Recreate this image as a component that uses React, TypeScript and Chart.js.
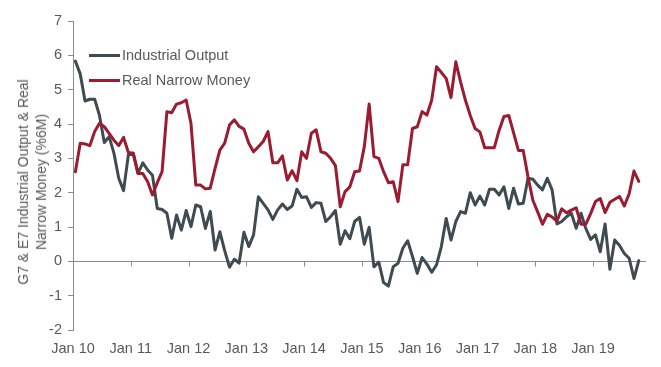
import React, { useEffect, useRef } from "react";
import { Chart, registerables } from "chart.js";

Chart.register(...registerables);

const tickLabels = ["Jan 10", "Jan 11", "Jan 12", "Jan 13", "Jan 14", "Jan 15", "Jan 16", "Jan 17", "Jan 18", "Jan 19"];
const seriesNames = ["Industrial Output", "Real Narrow Money"];
const yAxisTitle = ["G7 & E7 Industrial Output & Real", "Narrow Money  (%6M)"];

// Monthly values, Jan 2010 - Oct 2019
const industrialOutput = [
  5.83, 5.46, 4.67, 4.72, 4.72, 4.25, 3.46, 3.63, 3.15, 2.42, 2.06, 3.10,
  3.15, 2.56, 2.87, 2.66, 2.51, 1.54, 1.51, 1.40, 0.67, 1.35, 0.91, 1.48,
  1.01, 1.64, 1.59, 0.96, 1.45, 0.33, 0.86, 0.31, -0.17, 0.06, -0.05, 0.85,
  0.43, 0.77, 1.88, 1.69, 1.50, 1.22, 1.50, 1.67, 1.51, 1.61, 2.10, 1.86,
  1.88, 1.57, 1.71, 1.69, 1.16, 1.30, 1.48, 0.50, 0.89, 0.66, 1.16, 1.28,
  0.50, 0.99, -0.16, -0.02, -0.62, -0.72, -0.16, -0.06, 0.38, 0.60, 0.14, -0.35,
  0.11, -0.08, -0.32, -0.10, 0.43, 1.25, 0.62, 1.16, 1.45, 1.40, 2.00, 1.64,
  1.90, 1.64, 2.10, 2.10, 1.93, 2.17, 1.54, 2.13, 1.67, 1.69, 2.42, 2.39,
  2.22, 2.08, 2.42, 2.08, 1.09, 1.16, 1.30, 1.40, 0.96, 1.40, 0.96, 0.64,
  0.77, 0.28, 1.09, -0.23, 0.62, 0.46, 0.23, 0.09, -0.50, 0.02,
];

const realNarrowMoney = [
  2.61, 3.44, 3.42, 3.37, 3.78, 4.02, 3.92, 3.73, 3.53, 3.37, 3.61, 3.17,
  3.15, 2.56, 2.56, 2.32, 1.93, 2.29, 2.61, 4.36, 4.33, 4.58, 4.62, 4.70,
  4.02, 2.22, 2.22, 2.11, 2.13, 2.71, 3.24, 3.44, 3.97, 4.12, 3.93, 3.85,
  3.44, 3.19, 3.34, 3.49, 3.78, 2.87, 2.87, 3.07, 2.37, 2.64, 2.35, 3.19,
  3.00, 3.73, 3.83, 3.19, 3.15, 3.00, 2.79, 1.59, 2.03, 2.17, 2.61, 2.63,
  3.34, 4.58, 3.05, 3.00, 2.61, 2.29, 2.32, 1.74, 2.81, 2.81, 3.87, 3.92,
  4.36, 4.26, 4.70, 5.67, 5.50, 5.33, 4.77, 5.81, 5.22, 4.69, 4.25, 3.87,
  3.77, 3.31, 3.31, 3.31, 3.82, 4.22, 4.25, 3.74, 3.23, 3.23, 2.46, 1.78,
  1.44, 1.08, 1.37, 1.29, 1.17, 1.53, 1.41, 1.49, 1.56, 1.08, 1.08, 1.39,
  1.74, 1.83, 1.42, 1.72, 1.81, 1.89, 1.61, 1.97, 2.63, 2.33,
];

const GREY = "#3f4a51";
const RED = "#9b1b30";
const TEXT = "#595959";
const AXIS = "#8c8c8c";
const FONT = "'Liberation Sans', Arial, sans-serif";

const yearTicks = tickLabels.map((_, i) => i * 12);

export default function App() {
  const ref = useRef<HTMLCanvasElement | null>(null);

  useEffect(() => {
    if (!ref.current) return;
    const toXY = (arr: number[]) => arr.map((v, i) => ({ x: i + 0.5, y: v }));

    const zeroTicks = {
      id: "zeroTicks",
      beforeDatasetsDraw(chart: any) {
        const { ctx, scales } = chart;
        const xs = scales.x;
        const ys = scales.y;
        const y0 = Math.round(ys.getPixelForValue(0)) + 0.5;
        ctx.save();
        ctx.strokeStyle = AXIS;
        ctx.lineWidth = 1;
        ctx.beginPath();
        yearTicks.slice(1).forEach((v) => {
          const px = Math.round(xs.getPixelForValue(v)) + 0.5;
          ctx.moveTo(px, y0);
          ctx.lineTo(px, y0 + 5);
        });
        ctx.stroke();
        ctx.restore();
      },
    };

    const chart = new Chart(ref.current, {
      type: "line",
      data: {
        datasets: [
          {
            label: seriesNames[0],
            data: toXY(industrialOutput),
            borderColor: GREY,
            backgroundColor: GREY,
            borderWidth: 3,
            pointRadius: 0,
            tension: 0,
            borderJoinStyle: "round",
            borderCapStyle: "round",
            order: 2,
          },
          {
            label: seriesNames[1],
            data: toXY(realNarrowMoney),
            borderColor: RED,
            backgroundColor: RED,
            borderWidth: 3,
            pointRadius: 0,
            tension: 0,
            borderJoinStyle: "round",
            borderCapStyle: "round",
            order: 1,
          },
        ],
      },
      options: {
        responsive: false,
        animation: false,
        devicePixelRatio: 1,
        layout: { padding: { top: 21, right: 15, left: 0, bottom: 0 } },
        plugins: {
          legend: { display: false },
          tooltip: { enabled: false },
        },
        scales: {
          x: {
            type: "linear",
            min: 0,
            max: 119,
            grid: { display: false, drawTicks: false },
            border: { display: false },
            afterBuildTicks: (s: any) => {
              s.ticks = yearTicks.map((v) => ({ value: v }));
            },
            afterFit: (s: any) => {
              s.height = 37;
            },
            ticks: {
              autoSkip: false,
              maxRotation: 0,
              padding: 10,
              color: TEXT,
              font: { family: FONT, size: 14.5 },
              callback: (v: any) => tickLabels[Math.round(Number(v) / 12)] ?? "",
            },
          },
          y: {
            type: "linear",
            min: -2,
            max: 7,
            border: { display: true, color: AXIS, width: 1 },
            grid: {
              drawOnChartArea: true,
              color: (c: any) => (c.tick && c.tick.value === 0 ? AXIS : "rgba(0,0,0,0)"),
              tickColor: AXIS,
              tickLength: 5,
              drawTicks: true,
            },
            afterFit: (s: any) => {
              s.width = 73;
            },
            ticks: {
              stepSize: 1,
              padding: 6,
              color: TEXT,
              font: { family: FONT, size: 14.5 },
            },
          },
        },
      },
      plugins: [zeroTicks],
    });
    return () => chart.destroy();
  }, []);

  const legendItem = (name: string, color: string, top: number) => (
    <div
      key={name}
      style={{
        position: "absolute",
        left: 89,
        top: top - 10,
        height: 20,
        display: "flex",
        alignItems: "center",
        whiteSpace: "nowrap",
      }}
    >
      <div style={{ width: 31, height: 3, background: color, marginRight: 2 }} />
      <span style={{ fontFamily: FONT, fontSize: 14.5, color: TEXT, lineHeight: "20px" }}>{name}</span>
    </div>
  );

  return (
    <div style={{ position: "absolute", left: 0, top: 0, width: 661, height: 367, background: "#fff" }}>
      <canvas ref={ref} width={661} height={367} style={{ display: "block" }} />
      <div
        style={{
          position: "absolute",
          left: 32,
          top: 182,
          transform: "translate(-50%, -50%) rotate(-90deg)",
          textAlign: "center",
          whiteSpace: "nowrap",
          fontFamily: FONT,
          fontSize: 14,
          lineHeight: "18px",
          color: TEXT,
        }}
      >
        {yAxisTitle[0]}
        <br />
        {yAxisTitle[1]}
      </div>
      {legendItem(seriesNames[0], GREY, 55)}
      {legendItem(seriesNames[1], RED, 80)}
    </div>
  );
}
